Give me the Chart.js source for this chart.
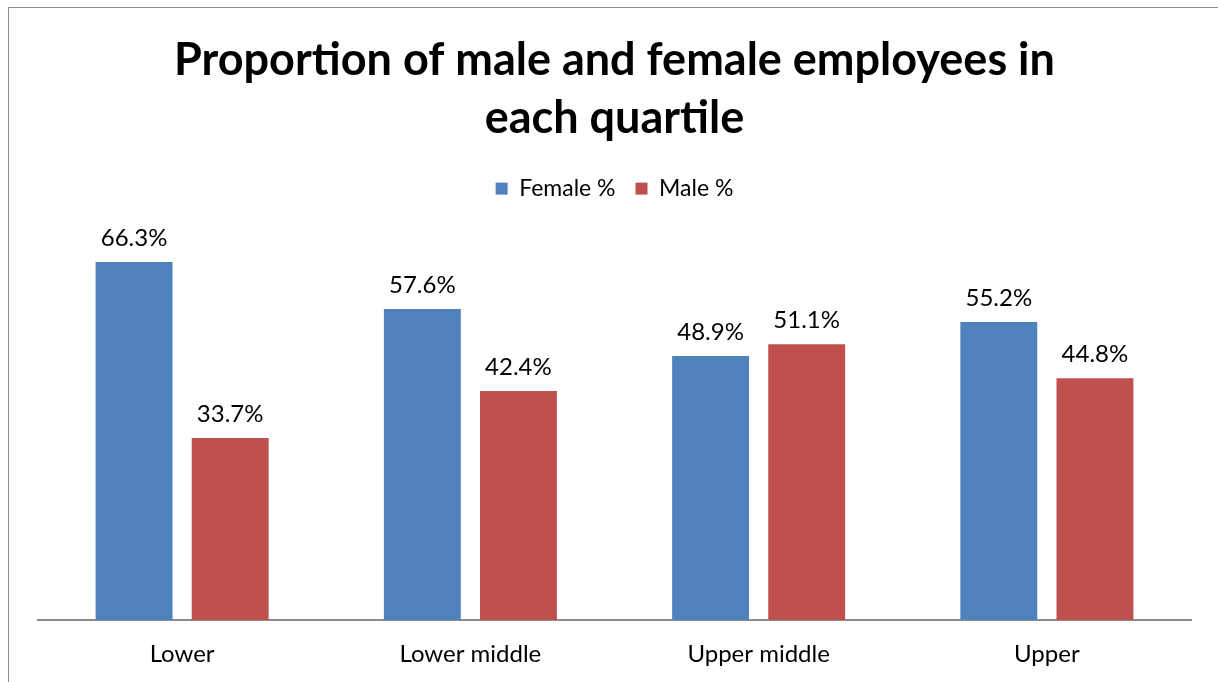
<!DOCTYPE html>
<html>
<head>
<meta charset="utf-8">
<script src="https://cdn.jsdelivr.net/npm/chart.js@4.4.0/dist/chart.umd.min.js"></script>
<style>
  html, body { margin: 0; padding: 0; background: #fff; overflow: hidden; }
  #frame { position: absolute; left: 8px; top: 7px; width: 1300px; height: 800px; border: 1px solid #8c8c8c; }
  #wrap { position: absolute; left: 0; top: 0; width: 1218px; height: 682px; }
</style>
</head>
<body>
<div id="frame"></div>
<div id="wrap"><canvas id="barChart"></canvas></div>
<script>
var quartiles = ["Lower", "Lower middle", "Upper middle", "Upper"];
var femalePct = [66.3, 57.6, 48.9, 55.2];
var malePct = [33.7, 42.4, 51.1, 44.8];

var FONT = "Lato, 'Open Sans', sans-serif";

// draw the value above every bar
var valueLabels = {
    id: "valueLabels",
    afterDatasetsDraw: function (chart) {
        var ctx = chart.ctx;
        ctx.save();
        ctx.font = "24px " + FONT;
        ctx.fillStyle = "#000";
        ctx.textAlign = "center";
        ctx.textBaseline = "bottom";
        chart.data.datasets.forEach(function (ds, i) {
            chart.getDatasetMeta(i).data.forEach(function (bar, j) {
                ctx.fillText(ds.data[j].toFixed(1) + "%", bar.x, bar.y - 12);
            });
        });
        ctx.restore();
    }
};

// extra space between the legend and the bars
var legendGap = {
    id: "legendGap",
    beforeInit: function (chart) {
        var fitValue = chart.legend.fit;
        chart.legend.fit = function () {
            fitValue.bind(chart.legend)();
            this.height += 32;
        };
    }
};

var ctx_bar = document.getElementById("barChart");

var data = {
    labels: quartiles,
    datasets: [
        {
            label: "Female %",
            backgroundColor: "#4F81BD",
            data: femalePct
        },
        {
            label: "Male %",
            backgroundColor: "#C0504D",
            data: malePct
        }
    ]
};

var myBarChart = new Chart(ctx_bar, {
    type: "bar",
    data: data,
    plugins: [valueLabels, legendGap],
    options: {
        responsive: true,
        maintainAspectRatio: false,
        animation: false,
        layout: { padding: { left: 38, right: 27, top: 31, bottom: 0 } },
        datasets: {
            bar: { categoryPercentage: 0.667, barPercentage: 0.8 }
        },
        plugins: {
            title: {
                display: true,
                text: ["Proportion of male and female employees in", "each quartile"],
                color: "#000",
                font: { family: FONT, size: 45, weight: "bold", lineHeight: 1.29 },
                padding: { top: 0, bottom: 10 }
            },
            legend: {
                labels: {
                    color: "#000",
                    font: { family: FONT, size: 23 },
                    usePointStyle: true,
                    pointStyle: "rect",
                    boxWidth: 12,
                    boxHeight: 12,
                    padding: 20
                }
            },
            tooltip: { enabled: false }
        },
        scales: {
            x: {
                grid: { display: false, drawTicks: false },
                border: { color: "#8c8c8c", width: 2 },
                ticks: { color: "#000", font: { family: FONT, size: 24 }, padding: 20 },
                afterFit: function (scale) {
                    scale.height = 62;
                }
            },
            y: {
                display: false,
                min: 0,
                max: 70
            }
        }
    }
});
</script>
</body>
</html>
